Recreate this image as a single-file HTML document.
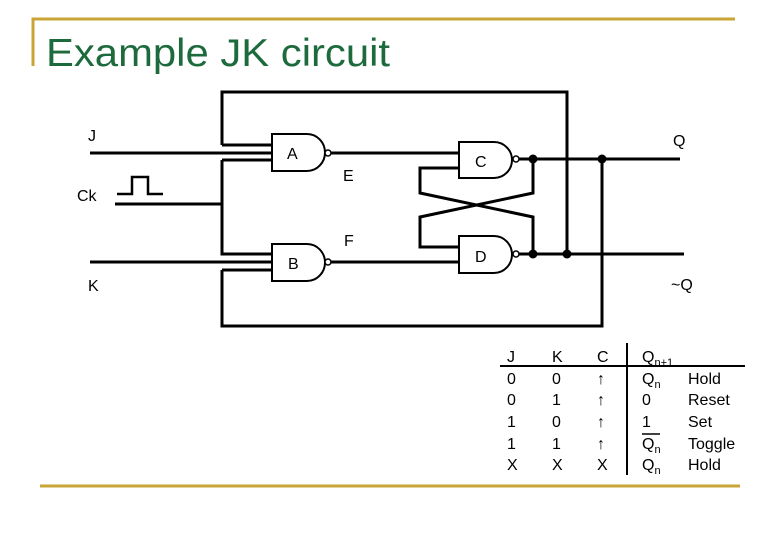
<!DOCTYPE html>
<html><head><style>
body{margin:0;background:#fff;}
svg{display:block;font-family:"Liberation Sans",Arial,sans-serif;}
</style></head><body>
<svg width="780" height="540" viewBox="0 0 780 540" xmlns="http://www.w3.org/2000/svg">
<rect width="780" height="540" fill="#fff"/>
<path d="M33 66 V19 H735" fill="none" stroke="#c9a437" stroke-width="3"/>
<text x="46" y="66" font-size="39" fill="#1d6a3d" textLength="344" lengthAdjust="spacingAndGlyphs">Example JK circuit</text>
<g fill="none" stroke="#000" stroke-width="3">
<path d="M222 145 V92 H567 V254"/>
<path d="M222 145 H272 M90 153 H272 M222 160 H272 M222 160 V254 H272 M115 204 H222 M90 262 H272 M222 270 H272 M222 270 V326 H602 V159"/>
<path d="M117 194 H132 V177 H148 V194 H163" stroke-width="2.5"/>
<path d="M272 134 H307 A18 18.5 0 0 1 307 171 H272 Z" stroke-width="2"/>
<path d="M272 244 H307 A18 18.5 0 0 1 307 281 H272 Z" stroke-width="2"/>
<path d="M459 142 H494 A18 18 0 0 1 494 178 H459 Z" stroke-width="2"/>
<path d="M459 236 H494 A18 18.5 0 0 1 494 273 H459 Z" stroke-width="2"/>
<path d="M331 153 H459 M331 262 H459"/>
<path d="M519 159 H680 M519 254 H684"/>
<path d="M459 168 H420 V193 L533 217 V254"/>
<path d="M533 159 V193 L420 217 V247 H459"/>
</g>
<g fill="#fff" stroke="#000" stroke-width="1.5">
<circle cx="328" cy="153" r="3"/><circle cx="328" cy="262" r="3"/>
<circle cx="516" cy="159" r="3"/><circle cx="516" cy="254" r="3"/>
</g>
<g fill="#000">
<circle cx="533" cy="159" r="4.5"/><circle cx="602" cy="159" r="4.5"/>
<circle cx="533" cy="254" r="4.5"/><circle cx="567" cy="254" r="4.5"/>
</g>
<g font-size="16" fill="#000">
<text x="88" y="141">J</text>
<text x="287" y="159">A</text>
<text x="343" y="181">E</text>
<text x="77" y="201">Ck</text>
<text x="344" y="246">F</text>
<text x="288" y="269">B</text>
<text x="88" y="291">K</text>
<text x="475" y="167">C</text>
<text x="475" y="262">D</text>
<text x="673" y="146">Q</text>
<text x="671" y="290">~Q</text>
</g>
<g stroke="#000" stroke-width="2">
<line x1="627" y1="343" x2="627" y2="475"/>
<line x1="500" y1="366" x2="745" y2="366"/>
<line x1="642" y1="434" x2="660" y2="434" stroke-width="1.5"/>
</g>
<g font-size="16" fill="#000">
<text x="507" y="362">J</text><text x="552" y="362">K</text><text x="597" y="362">C</text>
<text x="642" y="362">Q<tspan font-size="11" dy="4">n+1</tspan></text>
<text x="507" y="384">0</text><text x="552" y="384">0</text><text x="597" y="384">↑</text>
<text x="642" y="384">Q<tspan font-size="11" dy="4">n</tspan></text><text x="688" y="384">Hold</text>
<text x="507" y="405">0</text><text x="552" y="405">1</text><text x="597" y="405">↑</text>
<text x="642" y="405">0</text><text x="688" y="405">Reset</text>
<text x="507" y="427">1</text><text x="552" y="427">0</text><text x="597" y="427">↑</text>
<text x="642" y="427">1</text><text x="688" y="427">Set</text>
<text x="507" y="449">1</text><text x="552" y="449">1</text><text x="597" y="449">↑</text>
<text x="642" y="449">Q<tspan font-size="11" dy="4">n</tspan></text><text x="688" y="449">Toggle</text>
<text x="507" y="470">X</text><text x="552" y="470">X</text><text x="597" y="470">X</text>
<text x="642" y="470">Q<tspan font-size="11" dy="4">n</tspan></text><text x="688" y="470">Hold</text>
</g>
<line x1="40" y1="486" x2="740" y2="486" stroke="#c9a437" stroke-width="3"/>
</svg>
</body></html>
